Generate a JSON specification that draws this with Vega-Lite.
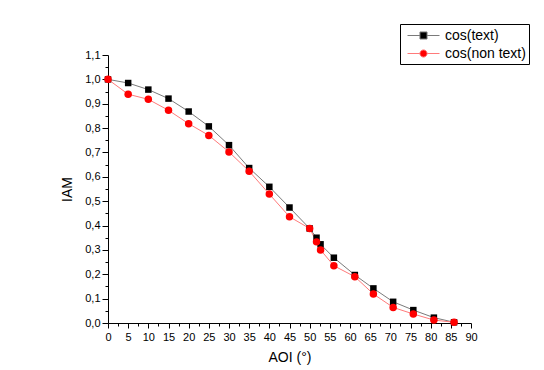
{
  "$schema": "https://vega.github.io/schema/vega-lite/v6.json",
  "width": 363,
  "height": 268,
  "autosize": "none",
  "padding": {"left": 108, "top": 55, "right": 73, "bottom": 47},
  "background": "white",
  "config": {
    "font": "Liberation Sans",
    "view": {"stroke": null},
    "axis": {
      "domainColor": "black",
      "domainWidth": 1,
      "tickColor": "black",
      "tickWidth": 1,
      "labelColor": "black",
      "labelFont": "Liberation Sans",
      "labelFontSize": 11,
      "titleFont": "Liberation Sans",
      "titleFontSize": 14,
      "titleFontWeight": "normal",
      "titleColor": "black",
      "grid": false,
      "labelOverlap": false,
      "labelFlush": false
    },
    "legend": {
      "orient": "none",
      "legendX": 292,
      "legendY": -31,
      "title": null,
      "strokeColor": "black",
      "fillColor": "white",
      "padding": 3,
      "labelFont": "Liberation Sans",
      "labelFontSize": 14,
      "labelColor": "black",
      "symbolSize": 256,
      "symbolOffset": 12,
      "labelOffset": 13,
      "rowPadding": 2,
      "symbolStrokeWidth": 1,
      "symbolOpacity": 1
    }
  },
  "data": {
    "values": [
      {"aoi": 0, "iam": 1.0, "series": "cos(text)"},
      {"aoi": 5, "iam": 0.985, "series": "cos(text)"},
      {"aoi": 10, "iam": 0.958, "series": "cos(text)"},
      {"aoi": 15, "iam": 0.921, "series": "cos(text)"},
      {"aoi": 20, "iam": 0.868, "series": "cos(text)"},
      {"aoi": 25, "iam": 0.807, "series": "cos(text)"},
      {"aoi": 30, "iam": 0.73, "series": "cos(text)"},
      {"aoi": 35, "iam": 0.636, "series": "cos(text)"},
      {"aoi": 40, "iam": 0.559, "series": "cos(text)"},
      {"aoi": 45, "iam": 0.474, "series": "cos(text)"},
      {"aoi": 50, "iam": 0.388, "series": "cos(text)"},
      {"aoi": 51.7, "iam": 0.35, "series": "cos(text)"},
      {"aoi": 52.7, "iam": 0.323, "series": "cos(text)"},
      {"aoi": 56, "iam": 0.268, "series": "cos(text)"},
      {"aoi": 61.2, "iam": 0.197, "series": "cos(text)"},
      {"aoi": 65.8, "iam": 0.142, "series": "cos(text)"},
      {"aoi": 70.7, "iam": 0.087, "series": "cos(text)"},
      {"aoi": 75.7, "iam": 0.053, "series": "cos(text)"},
      {"aoi": 80.8, "iam": 0.022, "series": "cos(text)"},
      {"aoi": 85.8, "iam": 0.003, "series": "cos(text)"},
      {"aoi": 0, "iam": 1.0, "series": "cos(non text)"},
      {"aoi": 5, "iam": 0.939, "series": "cos(non text)"},
      {"aoi": 10, "iam": 0.918, "series": "cos(non text)"},
      {"aoi": 15, "iam": 0.873, "series": "cos(non text)"},
      {"aoi": 20, "iam": 0.818, "series": "cos(non text)"},
      {"aoi": 25, "iam": 0.77, "series": "cos(non text)"},
      {"aoi": 30, "iam": 0.702, "series": "cos(non text)"},
      {"aoi": 35, "iam": 0.623, "series": "cos(non text)"},
      {"aoi": 40, "iam": 0.529, "series": "cos(non text)"},
      {"aoi": 45, "iam": 0.436, "series": "cos(non text)"},
      {"aoi": 50, "iam": 0.388, "series": "cos(non text)"},
      {"aoi": 51.7, "iam": 0.333, "series": "cos(non text)"},
      {"aoi": 52.7, "iam": 0.3, "series": "cos(non text)"},
      {"aoi": 56, "iam": 0.235, "series": "cos(non text)"},
      {"aoi": 61.2, "iam": 0.19, "series": "cos(non text)"},
      {"aoi": 65.8, "iam": 0.119, "series": "cos(non text)"},
      {"aoi": 70.7, "iam": 0.064, "series": "cos(non text)"},
      {"aoi": 75.7, "iam": 0.037, "series": "cos(non text)"},
      {"aoi": 80.8, "iam": 0.012, "series": "cos(non text)"},
      {"aoi": 85.8, "iam": 0.003, "series": "cos(non text)"}
    ]
  },
  "encoding": {
    "x": {
      "field": "aoi",
      "type": "quantitative",
      "title": "AOI (°)",
      "scale": {"domain": [0, 90], "nice": false, "zero": false},
      "axis": {
        "values": [0, 2.5, 5, 7.5, 10, 12.5, 15, 17.5, 20, 22.5, 25, 27.5, 30, 32.5, 35, 37.5, 40, 42.5, 45, 47.5, 50, 52.5, 55, 57.5, 60, 62.5, 65, 67.5, 70, 72.5, 75, 77.5, 80, 82.5, 85, 87.5, 90],
        "labelExpr": "datum.value % 5 == 0 ? format(datum.value, 'd') : ''",
        "tickSize": {"condition": {"test": "datum.value % 5 != 0", "value": 3}, "value": 5},
        "labelPadding": 3,
        "titlePadding": 8
      }
    },
    "y": {
      "field": "iam",
      "type": "quantitative",
      "title": "IAM",
      "scale": {"domain": [0, 1.1], "nice": false},
      "axis": {
        "values": [0, 0.05, 0.1, 0.15, 0.2, 0.25, 0.3, 0.35, 0.4, 0.45, 0.5, 0.55, 0.6, 0.65, 0.7, 0.75, 0.8, 0.85, 0.9, 0.95, 1.0, 1.05, 1.1],
        "labelExpr": "round(datum.value * 100) % 10 == 0 ? replace(format(datum.value, '.1f'), '.', ',') : ''",
        "tickSize": {"condition": {"test": "round(datum.value * 100) % 10 != 0", "value": 3}, "value": 6},
        "labelPadding": 2,
        "titlePadding": 10
      }
    }
  },
  "layer": [
    {
      "mark": {"type": "line", "strokeWidth": 1},
      "encoding": {
        "detail": {"field": "series", "type": "nominal"},
        "stroke": {"condition": {"test": "datum.series === 'cos(text)'", "value": "#7a7a7a"}, "value": "#ff7a7a"}
      }
    },
    {
      "mark": {"type": "point", "filled": true, "opacity": 1},
      "encoding": {
        "color": {"condition": {"test": "datum.series === 'cos(text)'", "value": "#000000"}, "value": "#ff0000"},
        "shape": {"condition": {"test": "datum.series === 'cos(text)'", "value": "square"}, "value": "circle"},
        "size": {"condition": {"test": "datum.series === 'cos(text)'", "value": 42}, "value": 56}
      }
    },
    {
      "transform": [{"filter": "datum.aoi < 0"}],
      "mark": {"type": "point", "filled": true, "opacity": 1, "strokeWidth": 1},
      "encoding": {
        "fill": {
          "field": "series",
          "type": "nominal",
          "scale": {"domain": ["cos(text)", "cos(non text)"], "range": ["#000000", "#ff0000"]}
        },
        "stroke": {
          "field": "series",
          "type": "nominal",
          "scale": {"domain": ["cos(text)", "cos(non text)"], "range": ["#7a7a7a", "#ff7a7a"]}
        },
        "shape": {
          "field": "series",
          "type": "nominal",
          "scale": {
            "domain": ["cos(text)", "cos(non text)"],
            "range": [
              "M-2,0H-0.44M0.44,0H2M-0.44,-0.44H0.44V0.44H-0.44Z",
              "M-2,0H-0.45M0.45,0H2M-0.45,0A0.45,0.45 0 1,1 0.45,0A0.45,0.45 0 1,1 -0.45,0Z"
            ]
          }
        }
      }
    }
  ]
}
